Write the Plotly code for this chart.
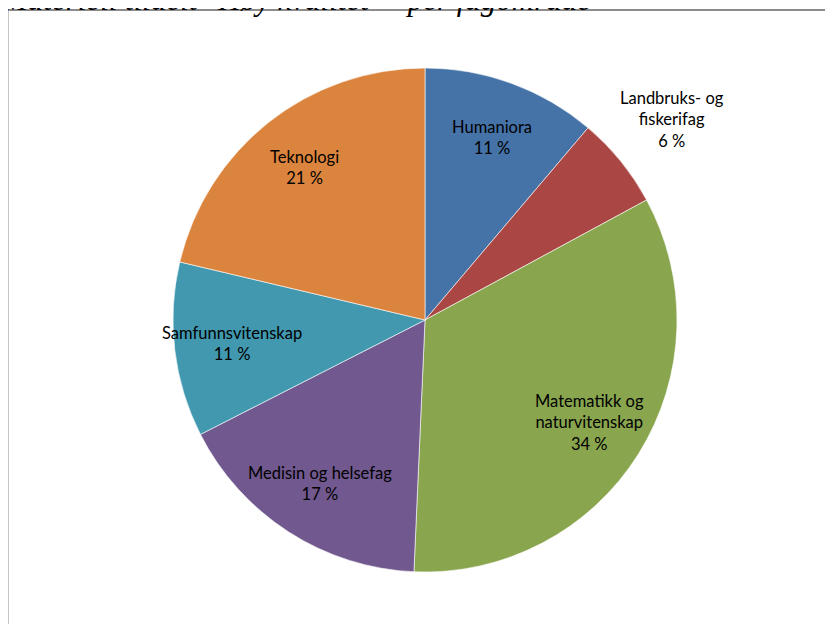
import math
import plotly.graph_objects as go

# andel per fagområde (lest av figuren)
fagomrader = ["Humaniora", "Landbruks- og<br>fiskerifag", "Matematikk og<br>naturvitenskap",
              "Medisin og helsefag", "Samfunnsvitenskap", "Teknologi"]
andeler = [11.2, 5.9, 33.6, 16.8, 11.2, 21.3]
farger = ["#4572A7", "#AA4643", "#89A54E", "#71588F", "#4198AF", "#DB843D"]
utenfor = [False, True, False, False, False, False]
tittel = 'Materiell tildelt "Høy kvalitet" - per fagområde'

total = sum(andeler)
prosent = ["%d %%" % round(v / total * 100) for v in andeler]

W, H = 833, 624
off = 8  # siden har 8 px marg rundt figuren
cx, cy, R = 425 - off, 320 - off, 252

fig = go.Figure(go.Pie(
    labels=[f.replace("<br>", " ") for f in fagomrader],
    values=andeler,
    textinfo="none",
    marker=dict(colors=farger, line=dict(color="white", width=0.6)),
    sort=False,
    direction="clockwise",
    rotation=0,
    showlegend=False,
    hoverinfo="label+percent",
    domain=dict(x=[(cx - R) / W, (cx + R) / W],
                y=[1 - (cy + R) / H, 1 - (cy - R) / H]),
))

# etiketter midt i hver sektor, som i Excel
acc = 0
for navn, v, p, ut in zip(fagomrader, andeler, prosent, utenfor):
    mid = (acc + v / 2) / total * 2 * math.pi
    acc += v
    r = R * (1.26 if ut else 0.77)
    x = cx + r * math.sin(mid)
    y = cy - r * math.cos(mid)
    fig.add_annotation(text=navn + "<br>" + p, xref="paper", yref="paper",
                       x=x / W, y=1 - y / H, xanchor="center", yanchor="middle",
                       showarrow=False,
                       font=dict(family="Lato", size=16.5, color="black"))

fig.add_shape(type="rect", xref="paper", yref="paper",
              x0=-0.5 / W, x1=1.02, y0=-0.02, y1=1 - 2 / H,
              line=dict(color="#8c8c8c", width=2))

fig.add_annotation(text="<i>" + tittel + "</i>", xref="paper", yref="paper",
                   x=-(off + 1) / W, y=1 - 10.5 / H, xanchor="left", yanchor="bottom",
                   showarrow=False,
                   font=dict(family="Liberation Serif", size=31, color="black"))

fig.update_layout(width=W, height=H, margin=dict(l=0, r=0, t=0, b=0),
                  paper_bgcolor="white", plot_bgcolor="white")

fig.write_html("out.html")
